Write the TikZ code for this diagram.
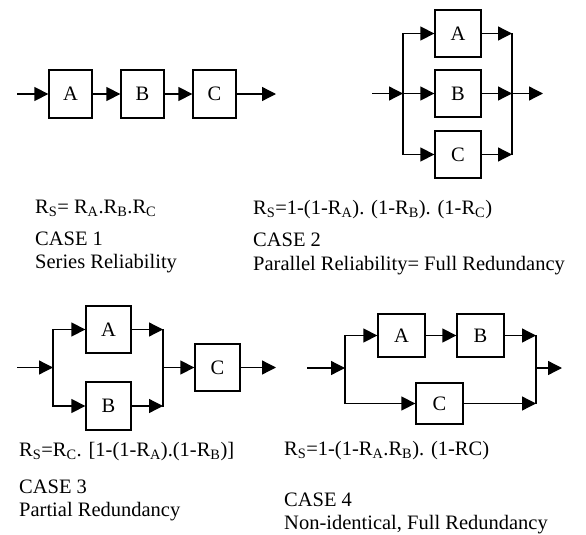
\documentclass[tikz,border=0pt]{standalone}
\usepackage{fontspec}
\setmainfont{Liberation Serif}
\usetikzlibrary{arrows.meta}
\begin{document}
\begin{tikzpicture}[x=1pt,y=-1pt,
  ln/.style={line width=1.3pt,line cap=rect},
  arr/.style={line width=1.3pt,-{Triangle[length=14pt,width=14pt]}},
  blk/.style={draw,line width=1.3pt,inner sep=0pt,font=\fontsize{20.5}{23}\selectfont},
  lbl/.style={anchor=base west,inner sep=0pt,font=\fontsize{20.5}{23}\selectfont}]
\useasboundingbox (0,0) rectangle (586,535);
\newcommand{\sbs}[1]{\textsubscript{#1}}
% ---------------- CASE 1
\node[blk,minimum width=43pt,minimum height=48pt] (a1) at (70.5,94) {A};
\node[blk,minimum width=43pt,minimum height=48pt] (b1) at (142.5,94) {B};
\node[blk,minimum width=43pt,minimum height=48pt] (c1) at (214.5,94) {C};
\coordinate (i1) at (17,94);
\coordinate (o1) at (276,94);
\draw[arr] (i1) -- (a1);
\draw[arr] (a1) -- (b1);
\draw[arr] (b1) -- (c1);
\draw[arr] (c1) -- (o1);
% ---------------- CASE 2
\node[blk,minimum width=46pt,minimum height=47pt] (a2) at (458,33.5) {A};
\node[blk,minimum width=46pt,minimum height=47pt] (b2) at (458,93.5) {B};
\node[blk,minimum width=46pt,minimum height=47pt] (c2) at (458,154.5) {C};
\coordinate (i2) at (372,93.5);
\coordinate (l2t) at (403,33.5);
\coordinate (l2m) at (403,93.5);
\coordinate (l2b) at (403,154.5);
\coordinate (r2t) at (512,33.5);
\coordinate (r2m) at (512,93.5);
\coordinate (r2b) at (512,154.5);
\coordinate (o2) at (543,93.5);
\draw[ln] (l2t) -- (l2b);
\draw[ln] (r2t) -- (r2b);
\draw[arr] (i2) -- (l2m);
\draw[arr] (l2t) -- (a2);
\draw[arr] (l2m) -- (b2);
\draw[arr] (l2b) -- (c2);
\draw[arr] (a2) -- (r2t);
\draw[arr] (b2) -- (r2m);
\draw[arr] (c2) -- (r2b);
\draw[arr] (r2m) -- (o2);
% ---------------- CASE 3
\node[blk,minimum width=45pt,minimum height=47pt] (a3) at (108.5,329.5) {A};
\node[blk,minimum width=45pt,minimum height=48pt] (b3) at (108.5,406) {B};
\node[blk,minimum width=45pt,minimum height=47pt] (c3) at (217.5,367.5) {C};
\coordinate (i3) at (17,367.5);
\coordinate (l3t) at (53,329.5);
\coordinate (l3m) at (53,367.5);
\coordinate (l3b) at (53,406);
\coordinate (r3t) at (163,329.5);
\coordinate (r3m) at (163,367.5);
\coordinate (r3b) at (163,406);
\coordinate (o3) at (276,367.5);
\draw[ln] (l3t) -- (l3b);
\draw[ln] (r3t) -- (r3b);
\draw[arr] (i3) -- (l3m);
\draw[arr] (l3t) -- (a3);
\draw[arr] (l3b) -- (b3);
\draw[arr] (a3) -- (r3t);
\draw[arr] (b3) -- (r3b);
\draw[arr] (r3m) -- (c3);
\draw[arr] (c3) -- (o3);
% ---------------- CASE 4
\node[blk,minimum width=47pt,minimum height=43pt] (a4) at (401.5,335.5) {A};
\node[blk,minimum width=47pt,minimum height=43pt] (b4) at (480.5,335.5) {B};
\node[blk,minimum width=47pt,minimum height=41pt] (c4) at (439.5,403.5) {C};
\coordinate (i4) at (307,368);
\coordinate (l4t) at (345,335.5);
\coordinate (l4m) at (345,368);
\coordinate (l4b) at (345,403.5);
\coordinate (r4t) at (536,335.5);
\coordinate (r4m) at (536,368);
\coordinate (r4b) at (536,403.5);
\coordinate (o4) at (562,368);
\draw[ln] (l4t) -- (l4b);
\draw[ln] (r4t) -- (r4b);
\draw[arr] (i4) -- (l4m);
\draw[arr] (l4t) -- (a4);
\draw[arr] (a4) -- (b4);
\draw[arr] (b4) -- (r4t);
\draw[arr] (l4b) -- (c4);
\draw[arr] (c4) -- (r4b);
\draw[arr] (r4m) -- (o4);
% ---------------- TEXTS
\node[lbl] (f1) at (35,213) {R\sbs{S}= R\sbs{A}.R\sbs{B}.R\sbs{C}};
\node[lbl] (k1) at (35,245) {CASE 1};
\node[lbl] (d1) at (35,268) {Series Reliability};
\node[lbl] (f2) at (253,214) {R\sbs{S}=1-(1-R\sbs{A}). (1-R\sbs{B}). (1-R\sbs{C})};
\node[lbl] (k2) at (253,246) {CASE 2};
\node[lbl] (d2) at (253,270) {Parallel Reliability= Full Redundancy};
\node[lbl] (f3) at (19,456) {R\sbs{S}=R\sbs{C}. [1-(1-R\sbs{A}).(1-R\sbs{B})]};
\node[lbl] (k3) at (19,493) {CASE 3};
\node[lbl] (d3) at (19,516) {Partial Redundancy};
\node[lbl] (f4) at (284,455) {R\sbs{S}=1-(1-R\sbs{A}.R\sbs{B}). (1-RC)};
\node[lbl] (k4) at (284,506) {CASE 4};
\node[lbl] (d4) at (284,529) {Non-identical, Full Redundancy};
\end{tikzpicture}
\end{document}
